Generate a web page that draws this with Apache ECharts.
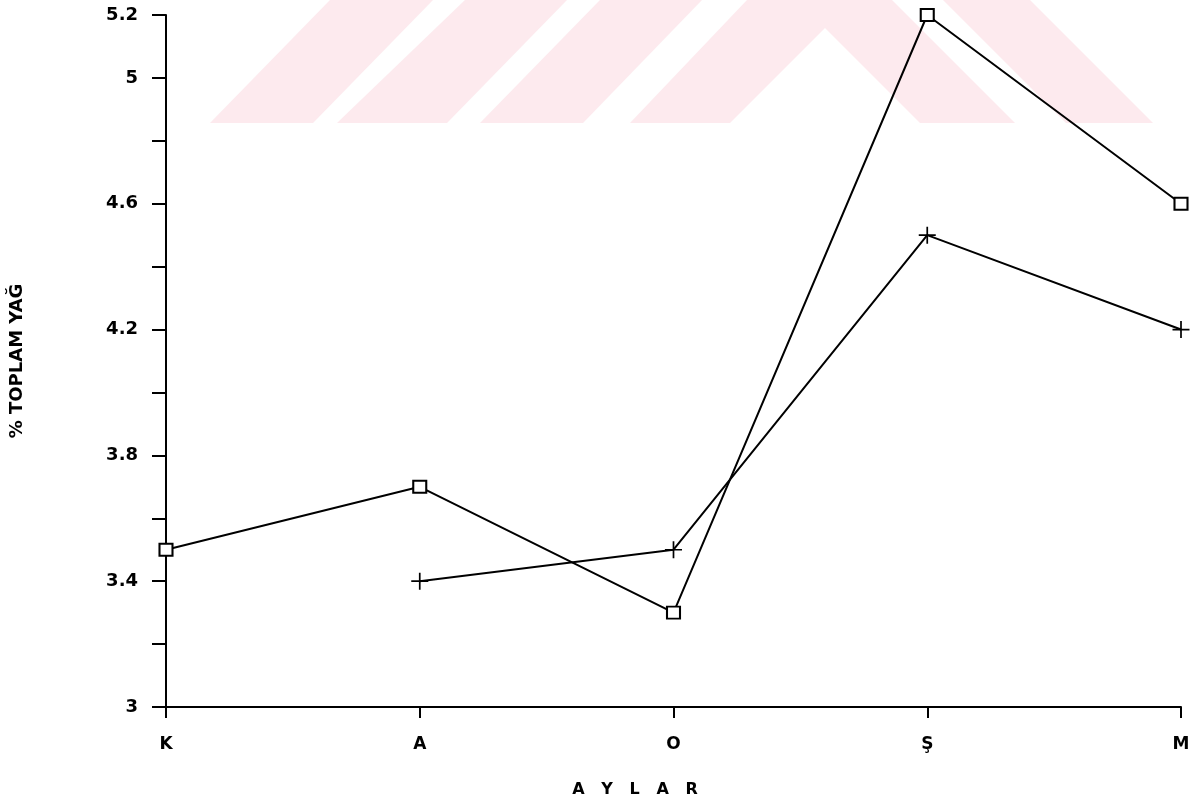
<!DOCTYPE html>
<html>
<head>
<meta charset="utf-8">
<script src="https://cdn.jsdelivr.net/npm/echarts@6/dist/echarts.min.js"></script>
<style>
html,body{margin:0;padding:0;background:#fff;}
#chart{width:1194px;height:802px;}
</style>
</head>
<body>
<div id="chart"></div>
<script>
const categories = ['K', 'A', 'O', 'Ş', 'M'];
const seriesSquare = [3.5, 3.7, 3.3, 5.2, 4.6];
const seriesPlus = ['-', 3.4, 3.5, 4.5, 4.2];
const yTickLabels = ['3', '3.4', '3.8', '4.2', '4.6', '5', '5.2'];
const yAxisTitle = '% TOPLAM YAĞ';
const xAxisTitle = 'A   Y   L   A   R';

const pink = '#fdeaee';
const watermark = [
  [[210,123],[313,123],[433,0],[330,0]],
  [[337,123],[447,123],[567,0],[465,0]],
  [[480,123],[583,123],[702,0],[600,0]],
  [[630,123],[747,0],[892,0],[1015,123],[920,123],[825,28],[730,123]],
  [[943,0],[1030,0],[1153,123],[1066,123]]
].map(pts => ({type:'polygon', shape:{points:pts}, style:{fill:pink}, z:-10, silent:true}));

const chart = echarts.init(document.getElementById('chart'), null, {renderer:'canvas'});
const font = 'DejaVu Sans';
chart.setOption({
  animation:false,
  backgroundColor:'#fff',
  grid:{left:163, right:13, top:15, bottom:95},
  graphic:[
    ...watermark,
    {type:'text', x:635, y:790, z:10,
     style:{text:xAxisTitle, align:'center', verticalAlign:'middle', textAlign:'center', textVerticalAlign:'middle',
            fill:'#000', font:'bold 16px "DejaVu Sans"'}}
  ],
  xAxis:{
    type:'category', data:categories, boundaryGap:false,
    axisLine:{lineStyle:{color:'#000', width:2}},
    axisTick:{show:true, length:11, lineStyle:{color:'#000', width:2}},
    axisLabel:{color:'#000', fontFamily:font, fontWeight:'bold', fontSize:17, margin:29},
    splitLine:{show:false}
  },
  yAxis:{
    type:'value', min:3, max:5.2, interval:0.2,
    name:yAxisTitle, nameLocation:'middle', nameGap:140, nameRotate:90,
    nameTextStyle:{color:'#000', fontFamily:font, fontWeight:'bold', fontSize:18},
    axisLine:{show:true, lineStyle:{color:'#000', width:2}},
    axisTick:{show:true, length:14, lineStyle:{color:'#000', width:2}},
    axisLabel:{color:'#000', fontFamily:font, fontWeight:'bold', fontSize:18, margin:28,
      formatter:function(v){
        const s = String(Math.round(v*10)/10);
        return yTickLabels.indexOf(s) >= 0 ? s : '';
      }},
    splitLine:{show:false}
  },
  series:[
    {type:'line', data:seriesSquare, symbol:'rect', symbolSize:[13,12],
     lineStyle:{color:'#000', width:2},
     itemStyle:{color:'#fff', borderColor:'#000', borderWidth:2}, z:3},
    {type:'line', data:seriesPlus,
     symbol:'path://M7.2,0h1.6v7.2h7.2v1.6h-7.2v7.2h-1.6v-7.2h-7.2v-1.6h7.2z', symbolSize:17,
     lineStyle:{color:'#000', width:2}, connectNulls:false,
     itemStyle:{color:'#000'}, z:3}
  ]
});
</script>
</body>
</html>
